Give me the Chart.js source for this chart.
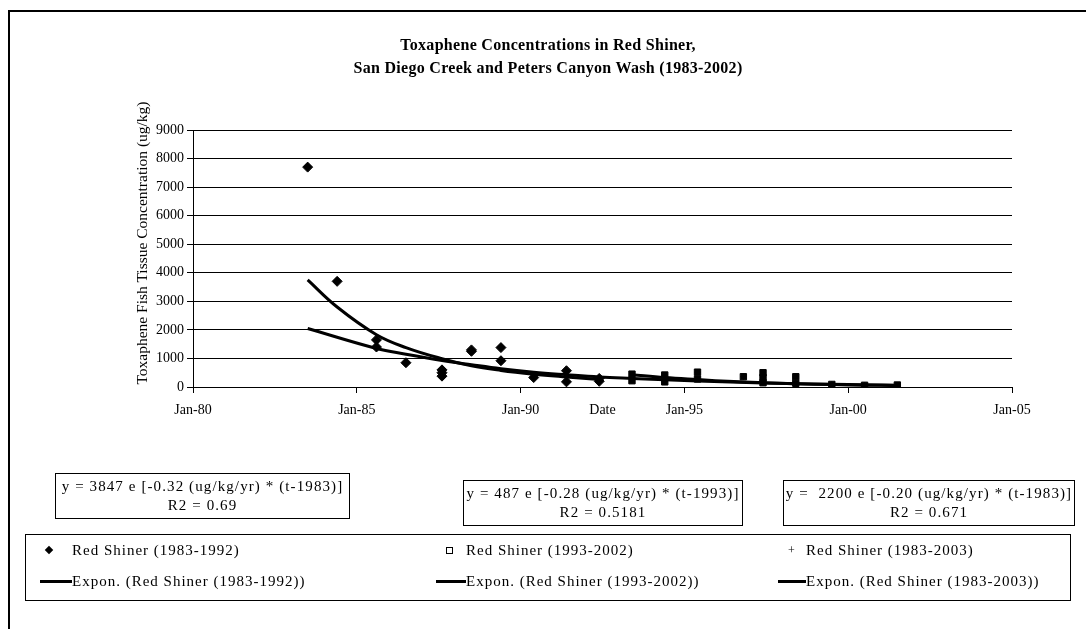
<!DOCTYPE html>
<html>
<head>
<meta charset="utf-8">
<script src="https://cdn.jsdelivr.net/npm/chart.js@4.4.1/dist/chart.umd.min.js"></script>
<style>
  body { margin: 0; background: #fff; }
  #wrap { position: relative; width: 1086px; height: 629px; overflow: hidden; font-family: "Liberation Serif", "DejaVu Serif", serif; color: #000; }
  #frame { position: absolute; left: 8px; top: 10px; width: 1100px; height: 700px; border-top: 2px solid #000; border-left: 2px solid #000; }
  #title { position: absolute; left: 300px; width: 496px; top: 33px; text-align: center; font-weight: bold; font-size: 16px; line-height: 23px; letter-spacing: 0.3px; }
  #ytitle { position: absolute; left: 142px; top: 243px; width: 300px; margin-left: -150px; margin-top: -9px; line-height: 18px; text-align: center; font-size: 15.5px; transform: rotate(-90deg); white-space: nowrap; }
  .eq { position: absolute; border: 1px solid #000; text-align: center; font-size: 15px; line-height: 19px; letter-spacing: 1.1px; padding-top: 3px; box-sizing: border-box; white-space: nowrap; }
  #legend { position: absolute; left: 25px; top: 534px; width: 1046px; height: 67px; border: 1px solid #000; box-sizing: border-box; font-size: 15px; letter-spacing: 1px; }
  .item { position: absolute; white-space: nowrap; line-height: 16px; }
  .mk { position: absolute; background: #000; }
</style>
</head>
<body>
<div id="wrap">
  <div id="frame"></div>
  <canvas id="chart" width="1086" height="629" style="position:absolute;left:0;top:0;"></canvas>
  <div id="title">Toxaphene Concentrations in Red Shiner,<br>San Diego Creek and Peters Canyon Wash (1983-2002)</div>
  <div id="ytitle">Toxaphene Fish Tissue Concentration (ug/kg)</div>
  <div class="eq" style="left:55px;top:473px;width:295px;height:46px;">y = 3847 e [-0.32 (ug/kg/yr) * (t-1983)]<br>R2 = 0.69</div>
  <div class="eq" style="left:463px;top:480px;width:280px;height:46px;">y = 487 e [-0.28 (ug/kg/yr) * (t-1993)]<br>R2 = 0.5181</div>
  <div class="eq" style="left:783px;top:480px;width:292px;height:46px;">y =&nbsp; 2200 e [-0.20 (ug/kg/yr) * (t-1983)]<br>R2 = 0.671</div>
  <div id="legend">
    <div class="mk" style="left:20px;top:12px;width:6px;height:6px;transform:rotate(45deg);"></div>
    <div class="item" style="left:46px;top:7px;">Red Shiner (1983-1992)</div>
    <div class="mk" style="left:14px;top:45px;width:32px;height:3px;"></div>
    <div class="item" style="left:46px;top:38px;">Expon. (Red Shiner (1983-1992))</div>

    <div class="mk" style="left:420px;top:12px;width:5px;height:5px;background:#fff;border:1px solid #000;"></div>
    <div class="item" style="left:440px;top:7px;">Red Shiner (1993-2002)</div>
    <div class="mk" style="left:410px;top:45px;width:30px;height:3px;"></div>
    <div class="item" style="left:440px;top:38px;">Expon. (Red Shiner (1993-2002))</div>

    <div class="item" style="left:762px;top:7px;font-size:12px;">+</div>
    <div class="item" style="left:780px;top:7px;">Red Shiner (1983-2003)</div>
    <div class="mk" style="left:752px;top:45px;width:28px;height:3px;"></div>
    <div class="item" style="left:780px;top:38px;">Expon. (Red Shiner (1983-2003))</div>
  </div>
</div>
<script>
// sample dates (decimal years) and toxaphene concentrations (ug/kg)
const early_years = [1983.5, 1984.4, 1985.6, 1985.6, 1986.5, 1987.6, 1987.6, 1987.6, 1988.5, 1988.5, 1989.4, 1989.4, 1990.4, 1991.4, 1991.4, 1992.4, 1992.4];
const early_values = [7700, 3700, 1650, 1400, 850, 600, 500, 380, 1300, 1250, 1380, 920, 330, 570, 180, 300, 200];

const late_years = [1993.4, 1993.4, 1994.4, 1994.4, 1995.4, 1995.4, 1996.8, 1997.4, 1997.4, 1997.4, 1998.4, 1998.4, 1999.5, 2000.5, 2001.5];
const late_values = [450, 220, 420, 180, 520, 280, 360, 500, 330, 150, 360, 130, 90, 60, 70];

// trend curves
const trendA_years = [1983.5, 1984.4, 1985.6, 1986.5, 1987.6, 1988.5, 1989.4, 1990.4, 1991.4, 1992.4];
const trendA_values = [3750, 2800, 1830, 1380, 990, 740, 580, 450, 350, 260];

const trendB_years = [1993.4, 1994.4, 1995.4, 1996.5, 1997.4, 1998.4, 1999.5, 2000.5, 2001.5];
const trendB_values = [430, 330, 260, 190, 150, 115, 85, 65, 50];

const trendC_years = [1983.5, 1985.6, 1986.5, 1987.6, 1988.5, 1989.4, 1990.4, 1991.4, 1992.4, 1993.4, 1995.4, 1997.4, 1999.5, 2001.5];
const trendC_values = [2050, 1350, 1150, 930, 780, 640, 520, 430, 350, 300, 210, 140, 95, 65];

const y_ticks = [0, 1000, 2000, 3000, 4000, 5000, 6000, 7000, 8000, 9000];
const x_ticks = [1980, 1985, 1990, 1995, 2000, 2005];

function pts(xs, ys) {
  return xs.map((x, i) => ({ x: x, y: ys[i] }));
}

const serif = "'Liberation Serif', 'DejaVu Serif', serif";

const dateLabel = {
  id: 'dateLabel',
  afterDraw(chart) {
    const ctx = chart.ctx;
    const a = chart.chartArea;
    ctx.save();
    ctx.font = '14px ' + serif;
    ctx.fillStyle = '#000';
    ctx.textAlign = 'center';
    ctx.textBaseline = 'middle';
    ctx.fillText('Date', (a.left + a.right) / 2, 410);
    ctx.restore();
  }
};

const trendLine = {
  type: 'line',
  showLine: true,
  borderColor: '#000',
  borderWidth: 3,
  pointRadius: 0,
  tension: 0.4,
  fill: false
};

new Chart(document.getElementById('chart'), {
  type: 'scatter',
  data: {
    datasets: [
      { label: 'Red Shiner (1983-1992)', data: pts(early_years, early_values), pointStyle: 'rectRot', pointRadius: 5, backgroundColor: '#000', borderColor: '#000' },
      { label: 'Red Shiner (1993-2002)', data: pts(late_years, late_values), pointStyle: 'rect', pointRadius: 4.5, backgroundColor: '#000', borderColor: '#000' },
      { label: 'Red Shiner (1983-2003)', data: pts(early_years.concat(late_years), early_values.concat(late_values)), pointStyle: 'cross', pointRadius: 3, borderWidth: 1, borderColor: '#000' },
      Object.assign({ label: 'Expon. (Red Shiner (1983-1992))', data: pts(trendA_years, trendA_values) }, trendLine),
      Object.assign({ label: 'Expon. (Red Shiner (1993-2002))', data: pts(trendB_years, trendB_values) }, trendLine),
      Object.assign({ label: 'Expon. (Red Shiner (1983-2003))', data: pts(trendC_years, trendC_values) }, trendLine)
    ]
  },
  options: {
    responsive: false,
    animation: false,
    layout: { padding: { left: 140, right: 74, top: 130, bottom: 202 } },
    plugins: { legend: { display: false }, tooltip: { enabled: false } },
    scales: {
      x: {
        type: 'linear',
        min: x_ticks[0],
        max: x_ticks[x_ticks.length - 1],
        afterBuildTicks: (s) => { s.ticks = x_ticks.map(v => ({ value: v })); },
        afterFit: (s) => { s.height = 40; },
        ticks: {
          color: '#000',
          font: { family: serif, size: 14 },
          padding: 9,
          maxRotation: 0,
          callback: (v) => 'Jan-' + String(v).slice(2)
        },
        grid: { drawOnChartArea: false, color: '#000', tickLength: 6 },
        border: { color: '#000', width: 1 }
      },
      y: {
        min: 0,
        max: 9000,
        afterBuildTicks: (s) => { s.ticks = y_ticks.map(v => ({ value: v })); },
        afterFit: (s) => { s.width = 53; },
        ticks: { color: '#000', font: { family: serif, size: 14 }, padding: 3, callback: (v) => String(v) },
        grid: { color: '#000', lineWidth: 1, tickLength: 6 },
        border: { color: '#000', width: 1 }
      }
    }
  },
  plugins: [dateLabel]
});
</script>
</body>
</html>
